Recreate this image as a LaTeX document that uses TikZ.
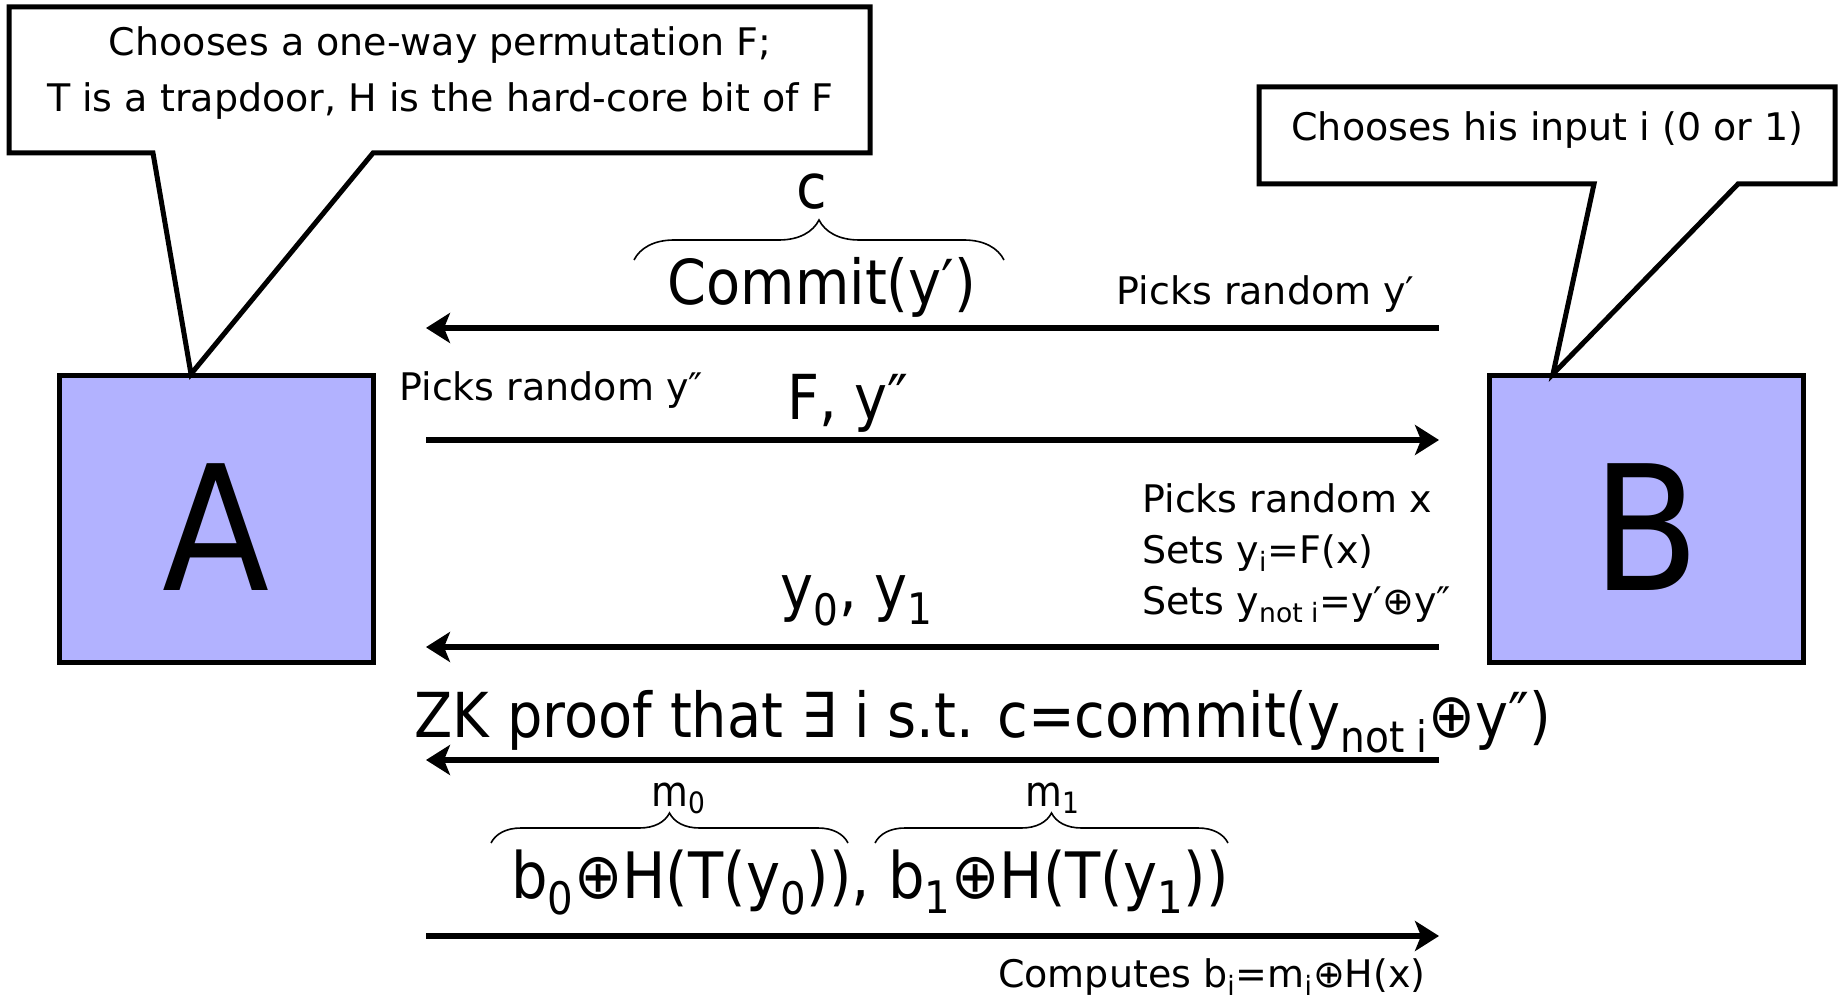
\documentclass[tikz,border=0pt]{standalone}
\usepackage{fontspec}
\setmainfont{DejaVu Sans}
\newfontfamily\bigfont{DejaVu Sans}[FakeStretch=0.9]
\usetikzlibrary{arrows.meta,decorations.pathreplacing}
\definecolor{partyblue}{rgb}{0.7,0.7,1}
\newcommand{\lo}[1]{\textsubscript{#1}}

\begin{document}
\begin{tikzpicture}[line cap=butt,line join=miter,x=0.5pt,y=0.5pt,
  >={Stealth[length=12pt,width=15pt,inset=3pt]},
  txt/.style={font=\fontsize{19}{25.5}\selectfont,inner sep=0pt},
  midtxt/.style={font=\bigfont\fontsize{21}{25}\selectfont,inner sep=0pt},
  bigtxt/.style={font=\bigfont\fontsize{31}{36}\selectfont,inner sep=0pt},
  party/.style={draw=black,line width=2.5pt,fill=partyblue,minimum width=157pt,minimum height=143.5pt,inner sep=0pt,text height=71pt,text depth=0pt,font=\bigfont\fontsize{87}{90}\selectfont},
  callout/.style={draw=black,line width=2.5pt,fill=white},
  msg/.style={line width=2.6pt},
  brc/.style={line width=0.8pt,decorate}]
\useasboundingbox (0,0) rectangle (1841,1002);
% the two players
\node[party] (boxA) at (216,482.5) {A};
\node[party] (boxB) at (1646,482.5) {B};
% callouts
\filldraw[callout] (9,995) -- (870,995) -- (870,849) -- (373,849) -- (191,628) -- (153,849) -- (9,849) -- cycle;
\filldraw[callout] (1259,915) -- (1835,915) -- (1835,818) -- (1738,818) -- (1553,628) -- (1594,818) -- (1259,818) -- cycle;
\node[txt,anchor=base] (calA1) at (440,946) {Chooses a one-way permutation F;};
\node[txt,anchor=base] (calA2) at (440,890) {T is a trapdoor, H is the hard-core bit of F};
\node[txt,anchor=base west] (calB) at (1291,861) {Chooses his input i (0 or 1)};
% message ends
\foreach \n/\y in {1/674,2/562,3/355,4/242,5/66}{
  \coordinate (mL\n) at (426,\y);
  \coordinate (mR\n) at (1439,\y);
}
\draw[msg,<-] (mL1) -- (mR1);
\draw[msg,->] (mL2) -- (mR2);
\draw[msg,<-] (mL3) -- (mR3);
\draw[msg,<-] (mL4) -- (mR4);
\draw[msg,->] (mL5) -- (mR5);
% first message
\node[bigtxt,anchor=base] (cmt) at (822,697) {Commit(y′)};
\draw[brc,decoration={brace,amplitude=20pt}] (634,742) -- (1004,742);
\node[bigtxt,anchor=base] (cLbl) at (812,793) {c};
\node[txt,anchor=base east] (pickB1) at (1415,697) {Picks random y′};
% second message
\node[txt,anchor=base west] (pickA) at (399,601) {Picks random y″};
\node[bigtxt,anchor=base] (fy) at (848,582) {F, y″};
% third message
\node[txt,anchor=west,align=left] (pickB2) at (1142,449) {Picks random x\\Sets y\lo{i}=F(x)\\Sets y\lo{not i}=y′⊕y″};
\node[bigtxt,anchor=base] (yy) at (857,392) {y\lo{0}, y\lo{1}};
% fourth message
\node[bigtxt,anchor=base] (zk) at (983,265) {ZK proof that ∃ i s.t. c=commit(y\lo{not i}⊕y″)};
% fifth message
\node[bigtxt,anchor=base,font=\bigfont\fontsize{32}{36}\selectfont] (bb) at (870,104) {b\lo{0}⊕H(T(y\lo{0})), b\lo{1}⊕H(T(y\lo{1}))};
\draw[brc,decoration={brace,amplitude=15pt}] (491,159) -- (848,159);
\draw[brc,decoration={brace,amplitude=15pt}] (875,159) -- (1228,159);
\node[midtxt,anchor=base] (m0) at (679,196) {m\lo{0}};
\node[midtxt,anchor=base] (m1) at (1053,196) {m\lo{1}};
\node[txt,anchor=base east] (comp) at (1426,15) {Computes b\lo{i}=m\lo{i}⊕H(x)};
\end{tikzpicture}
\end{document}
